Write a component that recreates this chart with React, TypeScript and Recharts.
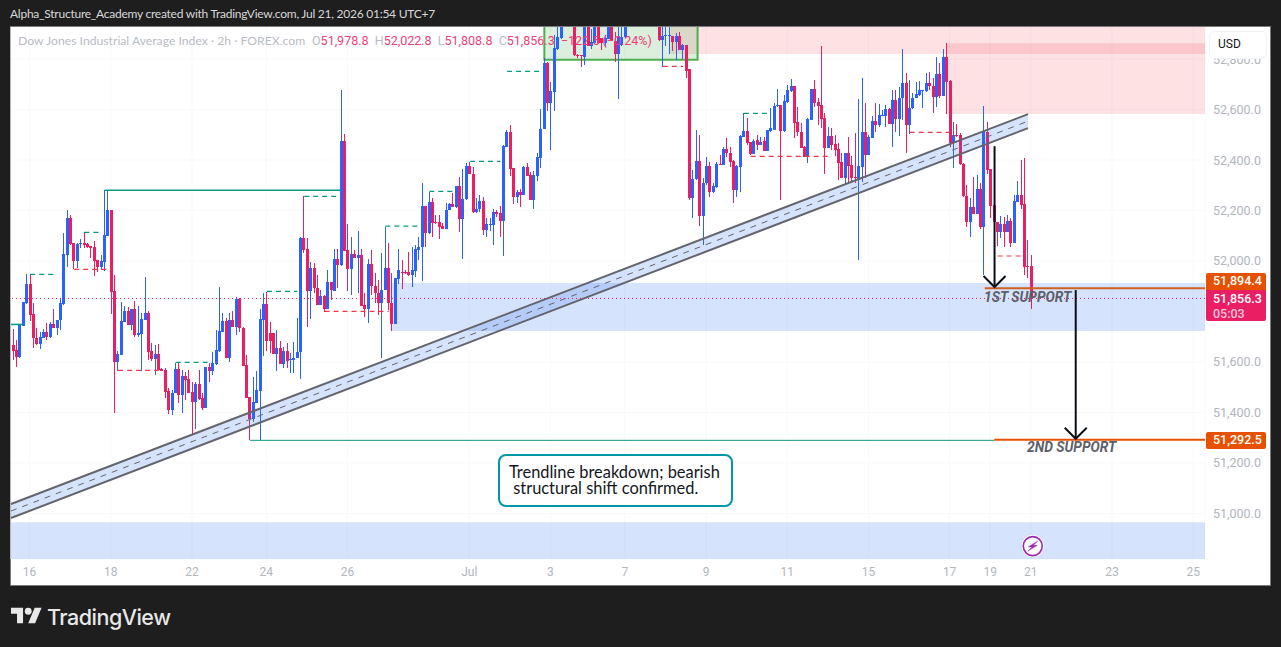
import React from "react";
import {
  ComposedChart, Bar, XAxis, YAxis, ReferenceLine, ReferenceArea, ReferenceDot, CartesianGrid,
} from "recharts";

const opens = [
51668,51648,51621,51744,51835,51909,51790,51697,51673,51697,
51719,51699,51751,51735,51765,51831,52025,52171,52070,52002,
52066,52071,52068,52060,52056,52004,51975,51998,52101,52202,
51881,51600,51628,51760,51804,51748,51810,51707,51712,51767,
51794,51644,51612,51632,51571,51569,51485,51410,51476,51573,
51470,51545,51533,51483,51443,51513,51458,51418,51582,51565,
51592,51645,51719,51763,51617,51767,51740,51850,51735,51587,
51460,51375,51439,51487,51767,51830,51715,51715,51633,51656,
51592,51644,51610,51610,51615,51639,52091,52048,51881,51972,
51893,51827,51862,51810,51916,51883,52008,51984,52475,52043,
51969,52026,52014,52023,51824,51811,51988,51902,51872,51835,
51887,51971,51832,51750,51927,51957,51955,51955,51944,51961,
52043,52056,52217,52112,52233,52154,52154,52138,52126,52202,
52225,52215,52297,52166,52244,52376,52344,52194,52208,52237,
52122,52144,52144,52195,52191,52159,52452,52510,52367,52254,
52273,52261,52372,52340,52241,52338,52409,52525,52784,52627,
52670,52840,52885,52960,53000,52970,52980,52818,52818,52809,
52990,52851,52864,52970,52883,52864,52880,52950,52873,52821,
52854,52887,52960,53010,53050,53030,53000,53040,53060,53030,
52995,52970,52875,52892,52892,52893,52867,52893,52834,52855,
52759,52251,52324,52396,52180,52308,52376,52275,52295,52384,
52382,52444,52428,52396,52281,52374,52493,52515,52471,52424,
52479,52460,52475,52437,52515,52519,52614,52618,52515,52630,
52675,52693,52551,52512,52452,52413,52559,52680,52631,52618,
52565,52448,52495,52464,52442,52392,52328,52428,52379,52332,
52321,52374,52511,52420,52489,52555,52539,52576,52576,52602,
52543,52638,52561,52644,52704,52539,52605,52644,52658,52676,
52672,52704,52693,52651,52741,52655,52809,52713,52466,52500,
52500,52383,52259,52156,52213,52186,52285,52136,52512,52363,
52222,52153,52116,52145,52116,52158,52072,52235,52261,52226,
51980,51978.8];

const highs = [
51731,51687,51749,51838,51949,51947,51833,51734,51719,51730,
51753,51760,51809,51767,51852,52112,52202,52182,52070,52070,
52086,52114,52070,52060,52079,52004,52024,52281,52281,52202,
51945,51644,51837,51823,51817,51810,51842,51822,51793,51937,
51802,51674,51668,51672,51575,51578,51496,51489,51598,51600,
51569,51562,51569,51522,51522,51569,51476,51582,51598,51640,
51727,51897,51796,51773,51793,51802,51859,51855,51740,51628,
51463,51542,51565,51809,51872,51879,51760,51715,51727,51682,
51661,51674,51637,51678,51775,52097,52258,52090,51995,51991,
51945,51885,51866,51965,51916,52048,52048,52677,52505,52146,
52096,52043,52118,52046,51872,52010,52043,51951,51924,52030,
52136,52070,51951,51931,52046,52004,51964,52034,52056,52063,
52096,52311,52217,52274,52248,52182,52184,52149,52231,52228,
52268,52297,52334,52364,52390,52394,52373,52248,52261,52254,
52169,52169,52208,52204,52217,52459,52518,52538,52367,52281,
52287,52377,52389,52353,52357,52429,52602,52806,52789,52710,
52897,52940,53010,53050,53080,53040,53020,52821,52818,53010,
53030,52920,53000,53010,52883,52897,52990,53000,52906,52960,
52950,53000,53040,53080,53110,53070,53060,53090,53100,53060,
53030,53010,52960,52950,52950,52893,52902,52906,52860,52857,
52762,52361,52519,52499,52328,52413,52394,52308,52394,52420,
52453,52489,52453,52400,52380,52498,52585,52565,52471,52482,
52499,52493,52490,52519,52605,52627,52681,52618,52658,52697,
52721,52693,52611,52545,52457,52568,52680,52717,52644,52852,
52585,52532,52528,52499,52466,52427,52429,52490,52416,52506,
52640,52725,52627,52499,52574,52625,52622,52598,52618,52605,
52677,52677,52691,52840,52743,52717,52664,52710,52714,52677,
52743,52750,52724,52809,52783,52838,52862,52717,52552,52541,
52506,52390,52301,52248,52332,52341,52308,52614,52549,52363,
52240,52156,52178,52175,52182,52169,52261,52318,52400,52410,
52083,52022.8];

const lows = [
51608,51582,51617,51744,51829,51764,51657,51668,51653,51694,
51687,51697,51734,51707,51727,51826,51975,52064,51967,51971,
52052,52053,52050,52011,51941,51958,51965,51961,52099,51790,
51397,51566,51628,51760,51745,51727,51701,51698,51566,51767,
51608,51606,51549,51569,51565,51456,51394,51390,51476,51439,
51397,51450,51476,51315,51334,51450,51410,51418,51522,51549,
51587,51641,51719,51617,51602,51740,51707,51720,51586,51456,
51291,51364,51439,51291,51624,51644,51635,51633,51566,51592,
51575,51575,51558,51558,51615,51534,52031,51740,51769,51872,
51826,51826,51800,51810,51846,51881,51895,51980,52041,51882,
51865,52013,51872,51821,51779,51755,51865,51832,51786,51617,
51887,51806,51724,51750,51911,51891,51948,51940,51898,51938,
52004,51922,52056,52109,52096,52146,52089,52125,52126,52202,
52215,52212,52116,52010,52241,52343,52191,52191,52194,52103,
52096,52120,52063,52175,52096,52021,52452,52336,52225,52228,
52215,52261,52338,52241,52206,52316,52367,52525,52595,52439,
52595,52834,52880,52935,52950,52935,52814,52803,52768,52777,
52851,52840,52860,52860,52834,52847,52878,52870,52788,52642,
52850,52885,52940,52990,53020,52990,52970,53010,53020,52980,
52955,52872,52770,52851,52821,52830,52797,52834,52801,52724,
52240,52172,52321,52140,52064,52301,52255,52271,52291,52380,
52380,52413,52374,52231,52255,52275,52490,52460,52420,52424,
52440,52460,52437,52437,52512,52519,52610,52242,52512,52627,
52671,52486,52495,52446,52411,52390,52559,52611,52539,52526,
52345,52446,52440,52416,52321,52328,52305,52308,52310,52310,
52004,52314,52330,52420,52486,52512,52532,52574,52532,52541,
52450,52512,52495,52559,52429,52503,52601,52644,52655,52607,
52671,52677,52585,52611,52644,52654,52582,52453,52367,52493,
52380,52255,52136,52094,52186,52186,52127,51944,52344,52170,
52140,52059,52090,52057,52116,52054,52072,52235,52208,51944,
51931,51808.8];

const closes = [
51644,51621,51749,51838,51909,51788,51697,51672,51699,51719,
51699,51751,51735,51767,51834,52028,52171,52069,52002,52068,
52071,52065,52056,52052,52002,51975,51999,52103,52202,51879,
51600,51632,51763,51804,51748,51810,51707,51714,51771,51794,
51640,51612,51632,51569,51565,51483,51410,51476,51573,51470,
51545,51529,51479,51442,51513,51455,51418,51582,51565,51598,
51648,51723,51763,51617,51767,51740,51850,51734,51586,51459,
51375,51443,51489,51771,51830,51683,51683,51633,51656,51594,
51644,51604,51612,51617,51639,52091,52045,51881,51972,51892,
51827,51862,51810,51916,51885,52008,51984,52475,52041,51969,
52027,52014,52023,51821,51811,51988,51902,51872,51832,51887,
51971,51832,51750,51931,51964,51951,51951,51944,51964,52047,
52056,52217,52112,52233,52151,52151,52133,52126,52202,52225,
52215,52297,52166,52244,52376,52343,52194,52208,52237,52122,
52146,52146,52195,52187,52159,52455,52510,52364,52254,52273,
52261,52372,52338,52241,52340,52411,52525,52784,52627,52672,
52843,52887,52960,53000,52970,52945,52817,52814,52811,52960,
52851,52867,52970,52864,52864,52883,52950,52873,52819,52893,
52887,52960,53010,53050,53030,53000,53040,53060,53030,52995,
52970,52876,52893,52895,52895,52867,52893,52836,52855,52752,
52248,52325,52396,52180,52309,52376,52275,52297,52384,52382,
52444,52427,52394,52281,52376,52495,52515,52466,52424,52477,
52460,52473,52437,52519,52528,52614,52618,52515,52634,52677,
52693,52548,52510,52448,52413,52563,52680,52627,52614,52564,
52448,52495,52460,52440,52390,52328,52428,52376,52329,52329,
52376,52511,52420,52493,52555,52539,52578,52578,52602,52543,
52638,52561,52644,52704,52539,52605,52644,52660,52677,52677,
52704,52693,52651,52741,52655,52809,52710,52466,52498,52495,
52383,52259,52156,52213,52186,52285,52136,52515,52360,52218,
52153,52116,52145,52116,52158,52072,52237,52261,52222,51977,
51977,51856.3];

const priceTicks = [51000, 51200, 51400, 51600, 52000, 52200, 52400, 52600, 52800];
const timeTickBars = [5, 29, 53, 75, 99, 135, 159, 181, 205, 229, 253, 277, 289, 301, 325, 349];
const timeTickLabels = ["16", "18", "22", "24", "26", "Jul", "3", "7", "9", "11", "15", "17", "19", "21", "23", "25"];

// [from bar, to bar, price]
const solidTeal = [[-0.68, 3, 51749], [27, 96.6, 52280], [70, 290, 51290]];
const dashedTeal = [
  [5, 13, 51947], [21, 26, 52114], [48, 59, 51599], [75, 84, 51880], [86, 97, 52256],
  [110, 121, 52138], [123, 131, 52276], [135, 144, 52395], [146, 157, 52751], [216, 224, 52585],
];
const dashedPink = [
  [18, 29, 51967], [31, 43, 51567], [92, 111, 51801], [192, 198, 52771],
  [218, 242, 52415], [265, 277, 52510], [291, 299, 52020],
];
// [from bar, to bar, low price, high price]
const blueZones = [[112, 353, 51723, 51913], [-0.68, 353, 50820, 50966]];
const pinkZones = [[194.3, 353, 52820, 52960], [276.2, 353, 52582, 52863]];
const greenBox = [157, 202.3, 52797, 52970];
// [from bar, from price, to bar, to price]
const channel = [-0.68, 51010, 300, 52554];
const arrows = [[290.1, 52455, 290.1, 51897], [314.1, 51885, 314.1, 51296]];
const supportLines = [
  { from: 287.2, price: 51892, color: "#d0601f" },
  { from: 290, price: 51292.5, color: "#e65100" },
];
const supportTexts = [
  { bar: 299.9, price: 51857, text: "1ST SUPPORT" },
  { bar: 312.9, price: 51264, text: "2ND SUPPORT" },
];
const lastPrice = 51852;
const SLOTS = 353;
const BAR_SHIFT = 0.68;

const UP = "#2962ff";
const DOWN = "#e91e63";
const TEAL = "#089981";
const FONT = "Roboto, 'Noto Sans', sans-serif";
const TEXT_FONT = "Lato, Roboto, sans-serif";
const D_MIN = 50820;
const D_MAX = 52927;
const PLOT_H = 532;
const PPU = PLOT_H / (D_MAX - D_MIN);
const ZONE_BLUE = "#3273f0";

const rows = Array.from({ length: SLOTS }, (_, i) =>
  i < opens.length
    ? { idx: i, o: opens[i], h: highs[i], l: lows[i], c: closes[i], range: [lows[i], highs[i]] }
    : { idx: i, range: null }
);

function Candle(props: any) {
  const { x, y, width, payload } = props;
  if (!payload || payload.range == null || !Number.isFinite(y)) return null;
  const { o, h, l, c } = payload;
  const color = c >= o ? UP : DOWN;
  const cx = x + width / 2 + 0.6;
  const left = Math.round(cx - 1.5);
  const at = (v: number) => y + (h - v) * PPU;
  const top = at(Math.max(o, c));
  const bot = at(Math.min(o, c));
  return (
    <g shapeRendering="crispEdges">
      <rect x={left + 1} y={y} width={1} height={Math.max(1, at(l) - y)} fill={color} />
      <rect x={left} y={top} width={3} height={Math.max(1, bot - top)} fill={color} />
    </g>
  );
}

function ChannelShape(props: any) {
  const { x1, y1, x2, y2 } = props;
  const hw = 7;
  return (
    <g>
      <polygon
        points={`${x1},${y1 - hw} ${x2},${y2 - hw} ${x2},${y2 + hw} ${x1},${y1 + hw}`}
        fill={ZONE_BLUE}
        fillOpacity={0.2}
      />
      <line x1={x1} y1={y1 - hw} x2={x2} y2={y2 - hw} stroke="#64656c" strokeWidth={2} />
      <line x1={x1} y1={y1 + hw} x2={x2} y2={y2 + hw} stroke="#64656c" strokeWidth={2} />
      <line x1={x1} y1={y1} x2={x2} y2={y2} stroke="#64656c" strokeWidth={1} strokeDasharray="6 6" />
    </g>
  );
}

function ArrowShape(props: any) {
  const { x1, y1, x2, y2 } = props;
  return (
    <g fill="none" stroke="#0b0e14" strokeWidth={2}>
      <line x1={x1} y1={y1} x2={x2} y2={y2} />
      <polyline points={`${x2 - 11},${y2 - 11} ${x2},${y2} ${x2 + 11},${y2 - 11}`} />
    </g>
  );
}

const SupportLabel = (text: string) => (props: any) => (
  <text
    x={props.cx}
    y={props.cy}
    textAnchor="middle"
    dominantBaseline="central"
    fontFamily={FONT}
    fontStyle="italic"
    fontWeight={700}
    fontSize={13.8}
    fill="#5d606b"
  >
    {text}
  </text>
);

function BoltIcon(props: any) {
  const { cx, cy } = props;
  return (
    <g>
      <circle cx={cx} cy={cy} r={11} fill="#ffffff" />
      <circle cx={cx} cy={cy} r={9.5} fill="#ffffff" stroke="#9c27b0" strokeWidth={1.6} />
      <path
        d={`M${cx + 5},${cy - 5} L${cx - 4.5},${cy + 0.8} L${cx - 0.5},${cy + 0.8} L${cx - 5},${cy + 5} L${cx + 4.5},${cy - 0.8} L${cx + 0.5},${cy - 0.8} Z`}
        fill="#9c27b0"
        stroke="#9c27b0"
        strokeWidth={0.5}
      />
    </g>
  );
}

const abs = (s: React.CSSProperties): React.CSSProperties => ({ position: "absolute", whiteSpace: "pre", ...s });
const LEG = "#ec3f78";

export default function App() {
  return (
    <div style={{ position: "fixed", left: 0, top: 0, width: 1281, height: 647, background: "#1e1e1e", overflow: "hidden", fontFamily: FONT }}>
      <div style={abs({ left: 10, top: 26, width: 1259, height: 558, background: "#fff", border: "1px solid #7a7a7a" })} />
      <div style={{ position: "absolute", left: 0, top: 0 }}>
        <ComposedChart
          width={1281}
          height={647}
          data={rows}
          margin={{ left: 11, right: 14, top: 27, bottom: 61 }}
          barCategoryGap={0}
        >
          <CartesianGrid xAxisId="cat" stroke="#f8f9fb" />
          <XAxis
            xAxisId="cat"
            dataKey="idx"
            type="category"
            height={27}
            ticks={timeTickBars}
            interval={0}
            tickLine={false}
            axisLine={false}
            tick={{ fill: "#b2b5be", fontSize: 12, fontFamily: FONT }}
            tickFormatter={(v: number) => timeTickLabels[timeTickBars.indexOf(v)] ?? ""}
          />
          <XAxis xAxisId="n" dataKey="idx" type="number" domain={[0, SLOTS]} hide allowDataOverflow />
          <YAxis
            orientation="right"
            width={62}
            type="number"
            domain={[D_MIN, D_MAX]}
            allowDataOverflow
            ticks={priceTicks}
            interval={0}
            tickLine={false}
            axisLine={false}
            tick={{ fill: "#b2b5be", fontSize: 12.5, fontFamily: FONT }}
            tickFormatter={(v: number) => v.toLocaleString("en-US", { minimumFractionDigits: 1 })}
          />

          {blueZones.map((z, i) => (
            <ReferenceArea key={"b" + i} xAxisId="n" x1={z[0] + BAR_SHIFT} x2={z[1]} y1={z[2]} y2={z[3]} ifOverflow="hidden" fill={ZONE_BLUE} fillOpacity={0.2} stroke="none" />
          ))}
          {pinkZones.map((z, i) => (
            <ReferenceArea key={"p" + i} xAxisId="n" x1={z[0] + BAR_SHIFT} x2={z[1]} y1={z[2]} y2={z[3]} ifOverflow="hidden" fill="#f23645" fillOpacity={0.15} stroke="none" />
          ))}

          <Bar xAxisId="cat" dataKey="range" shape={Candle} isAnimationActive={false} />

          <ReferenceArea
            xAxisId="n"
            x1={greenBox[0] + BAR_SHIFT}
            x2={greenBox[1] + BAR_SHIFT}
            y1={greenBox[2]}
            y2={greenBox[3]}
            ifOverflow="hidden"
            fill="#4caf50"
            fillOpacity={0.2}
            stroke="#4caf50"
            strokeWidth={2}
          />

          <ReferenceLine
            xAxisId="n"
            ifOverflow="hidden"
            segment={[{ x: channel[0] + BAR_SHIFT, y: channel[1] }, { x: channel[2] + BAR_SHIFT, y: channel[3] }]}
            shape={ChannelShape}
          />
          <ReferenceLine y={lastPrice} xAxisId="n" stroke={DOWN} strokeWidth={1} strokeDasharray="1 3" />

          {solidTeal.map((s, i) => (
            <ReferenceLine key={"st" + i} xAxisId="n" ifOverflow="hidden" segment={[{ x: s[0] + BAR_SHIFT, y: s[2] }, { x: s[1] + BAR_SHIFT, y: s[2] }]} stroke={TEAL} strokeWidth={i === 2 ? 1 : 1.5} />
          ))}
          {dashedTeal.map((s, i) => (
            <ReferenceLine key={"dt" + i} xAxisId="n" ifOverflow="hidden" segment={[{ x: s[0] + BAR_SHIFT, y: s[2] }, { x: s[1] + BAR_SHIFT, y: s[2] }]} stroke={TEAL} strokeWidth={1.2} strokeDasharray="5 4" />
          ))}
          {dashedPink.map((s, i) => (
            <ReferenceLine key={"dp" + i} xAxisId="n" ifOverflow="hidden" segment={[{ x: s[0] + BAR_SHIFT, y: s[2] }, { x: s[1] + BAR_SHIFT, y: s[2] }]} stroke="#f23645" strokeWidth={1.2} strokeDasharray="5 4" />
          ))}
          {supportLines.map((s, i) => (
            <ReferenceLine key={"sl" + i} xAxisId="n" ifOverflow="hidden" segment={[{ x: s.from + BAR_SHIFT, y: s.price }, { x: SLOTS, y: s.price }]} stroke={s.color} strokeWidth={2} />
          ))}
          {arrows.map((a, i) => (
            <ReferenceLine key={"ar" + i} xAxisId="n" ifOverflow="hidden" segment={[{ x: a[0] + BAR_SHIFT, y: a[1] }, { x: a[2] + BAR_SHIFT, y: a[3] }]} shape={ArrowShape} />
          ))}
          {supportTexts.map((t, i) => (
            <ReferenceDot key={"tx" + i} xAxisId="n" x={t.bar + BAR_SHIFT} y={t.price} r={0} shape={SupportLabel(t.text)} />
          ))}
          <ReferenceDot xAxisId="n" x={301.4 + BAR_SHIFT} y={50871} shape={BoltIcon} />
        </ComposedChart>
      </div>

      {/* chrome */}
      <div style={abs({ left: 0, top: 0, width: 1281, height: 26, background: "#1e1e1e" })} />
      <div style={abs({ left: 10, top: 6, fontSize: 12, letterSpacing: -0.25, fontFamily: TEXT_FONT, color: "#d8d8d8" })}>
        Alpha_Structure_Academy created with TradingView.com, Jul 21, 2026 01:54 UTC+7
      </div>
      <div style={abs({ left: 10, top: 26, width: 1259, height: 1, background: "#7a7a7a" })} />

      <div style={abs({ left: 18, top: 33, fontSize: 12.2, fontFamily: TEXT_FONT, color: "#b9bcc5" })}>
        Dow Jones Industrial Average Index · 2h · FOREX.com
      </div>
      <div style={abs({ left: 312, top: 33, fontSize: 12.5, color: "#b9bcc5" })}>
        O<span style={{ color: LEG }}>51,978.8</span>{"  "}H<span style={{ color: LEG }}>52,022.8</span>{"  "}L<span style={{ color: LEG }}>51,808.8</span>{"  "}C<span style={{ color: LEG }}>51,856.3</span>{"  "}<span style={{ color: LEG }}>−122.5 (−0.24%)</span>
      </div>

      <div style={abs({ left: 1209, top: 31, width: 58, height: 28, boxSizing: "border-box", background: "#fff", border: "1px solid #f0f3fa", borderRadius: 6, fontSize: 12, color: "#131722", lineHeight: "25px", paddingLeft: 8 })}>
        USD
      </div>

      <div style={abs({ left: 1206, top: 273, width: 60, height: 17, background: "#e65100", color: "#fff", fontSize: 12.5, fontWeight: 500, lineHeight: "16px", paddingLeft: 7, boxSizing: "border-box", borderRadius: "2px 2px 0 0" })}>
        51,894.4
      </div>
      <div style={abs({ left: 1206, top: 290, width: 60, height: 31, background: "#e91e63", color: "#fff", fontSize: 12.5, fontWeight: 500, lineHeight: "15px", paddingLeft: 7, paddingTop: 1, boxSizing: "border-box", borderRadius: "0 0 2px 2px" })}>
        51,856.3{"\n"}<span style={{ color: "#f9c6d7" }}>05:03</span>
      </div>
      <div style={abs({ left: 1206, top: 432, width: 60, height: 17, background: "#e65100", color: "#fff", fontSize: 12.5, fontWeight: 500, lineHeight: "16px", paddingLeft: 7, boxSizing: "border-box", borderRadius: 2 })}>
        51,292.5
      </div>

      <div style={abs({ left: 498, top: 454, width: 235, height: 53, boxSizing: "border-box", background: "#fff", border: "2px solid #0097a7", borderRadius: 8 })} />
      <div style={abs({ left: 509, top: 464, fontSize: 16.4, fontFamily: TEXT_FONT, lineHeight: "16px", color: "#131722" })}>
        {"Trendline breakdown; bearish\n structural shift confirmed."}
      </div>

      <svg style={{ position: "absolute", left: 11, top: 607 }} width={31} height={17} viewBox="0 4 36 18">
        <path d="M14 22H7V11H0V4h14v18zM28 22h-8l7.5-18h8L28 22z" fill="#e8e8e8" />
        <circle cx={20} cy={8} r={4} fill="#e8e8e8" />
      </svg>
      <div style={abs({ left: 47, top: 604, fontSize: 21.5, fontWeight: 500, fontFamily: "Inter, Roboto, sans-serif", color: "#e8e8e8", letterSpacing: -0.5 })}>
        TradingView
      </div>
    </div>
  );
}
